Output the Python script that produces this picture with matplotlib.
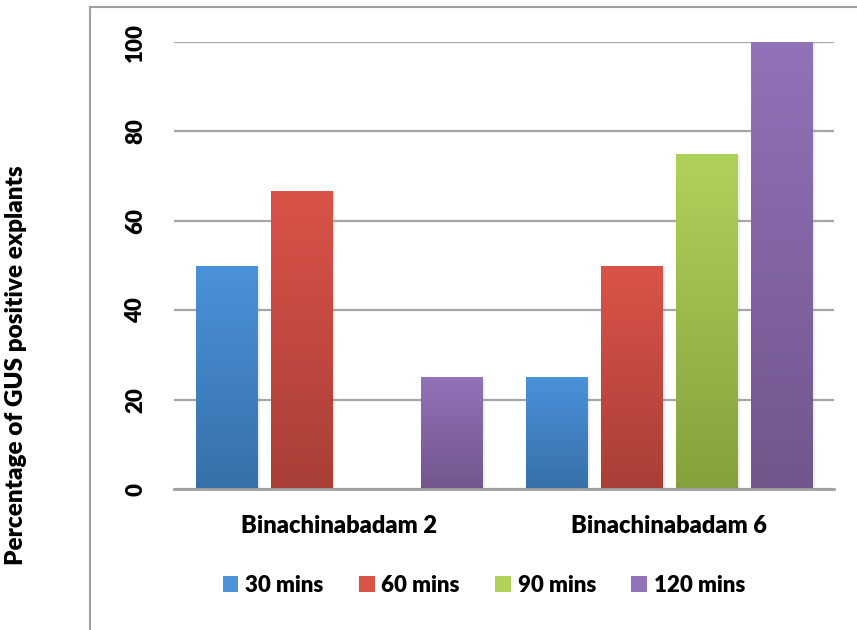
import numpy as np
import matplotlib.pyplot as plt
from matplotlib.lines import Line2D
from matplotlib.patches import Patch
from matplotlib.colors import LinearSegmentedColormap
import matplotlib.patheffects as pe

plt.rcParams['font.family'] = ['Lato', 'DejaVu Sans']
plt.rcParams['font.weight'] = 'heavy'
W = 'heavy'

# data
cultivars = ['Binachinabadam 2', 'Binachinabadam 6']
durations = ['30 mins', '60 mins', '90 mins', '120 mins']
pct_30 = [50, 25]
pct_60 = [66.7, 50]
pct_90 = [0, 75]
pct_120 = [25, 100]
yticks = [0, 20, 40, 60, 80, 100]

# (top colour, bottom colour) for each series
shades = [('#4B92DA', '#3670A9'),
          ('#DA5349', '#A93F37'),
          ('#B0D25A', '#84A13D'),
          ('#9272B8', '#71568D')]

fig = plt.figure(figsize=(8.57, 6.3), dpi=100)
ax = fig.add_axes([174/857, 1 - 489/630, 660/857, 447/630])

x = np.arange(len(cultivars))
step = 0.227
width = 0.185
series = [pct_30, pct_60, pct_90, pct_120]

for i, vals in enumerate(series):
    top, bottom = shades[i]
    bars = ax.bar(x + (i - 1.5) * step, vals, width, color=bottom, zorder=3,
                  path_effects=[pe.SimplePatchShadow(offset=(2, -1), shadow_rgbFace='#909090', alpha=0.15),
                                pe.Normal()])
    cmap = LinearSegmentedColormap.from_list('g%d' % i, [bottom, top])
    grad = np.linspace(0, 1, 256).reshape(-1, 1)
    for b in bars:
        if b.get_height() <= 0:
            continue
        x0 = b.get_x()
        im = ax.imshow(grad, extent=[x0, x0 + b.get_width(), 0, b.get_height()],
                       origin='lower', aspect='auto', cmap=cmap, zorder=4)
        im.set_clip_path(b)

ax.set_xlim(-0.5, 1.5)
ax.set_ylim(0, 100)
ax.set_yticks(yticks)
ax.set_xticks(x)
ax.set_xticklabels(cultivars, fontsize=17, fontweight=W)
for lab in ax.get_yticklabels():
    lab.set_rotation(90)
    lab.set_va('center')
    lab.set_fontsize(16)
    lab.set_fontweight(W)
ax.tick_params(axis='y', length=0, pad=20)
ax.tick_params(axis='x', length=0, pad=19)

ax.grid(axis='y', color='#A5A5A5', linewidth=1.6, zorder=1)
ax.set_axisbelow(True)
for s in ['top', 'right', 'left']:
    ax.spines[s].set_visible(False)
ax.spines['bottom'].set_color('#A0A0A0')
ax.spines['bottom'].set_linewidth(2)
ax.spines['bottom'].set_zorder(5)

fig.text(16/857, 1 - 365/630, 'Percentage of GUS positive explants',
         rotation=90, ha='center', va='center', fontsize=17.5, fontweight=W)

# outer frame lines
fig.add_artist(Line2D([90/857, 90/857], [0, 1 - 7/630], color='#A0A0A0', lw=1.5))
fig.add_artist(Line2D([90/857, 1], [1 - 7/630, 1 - 7/630], color='#A0A0A0', lw=1.5))

handles = [Patch(facecolor=shades[i][0], edgecolor='none') for i in range(4)]
fig.legend(handles, durations, loc='center', bbox_to_anchor=(484/857, 1 - 585/630),
           ncol=4, frameon=False, handlelength=0.7, handleheight=0.7,
           handletextpad=0.3, columnspacing=1.6, prop={'weight': W, 'size': 16})

fig.savefig('out.png', dpi=100)
